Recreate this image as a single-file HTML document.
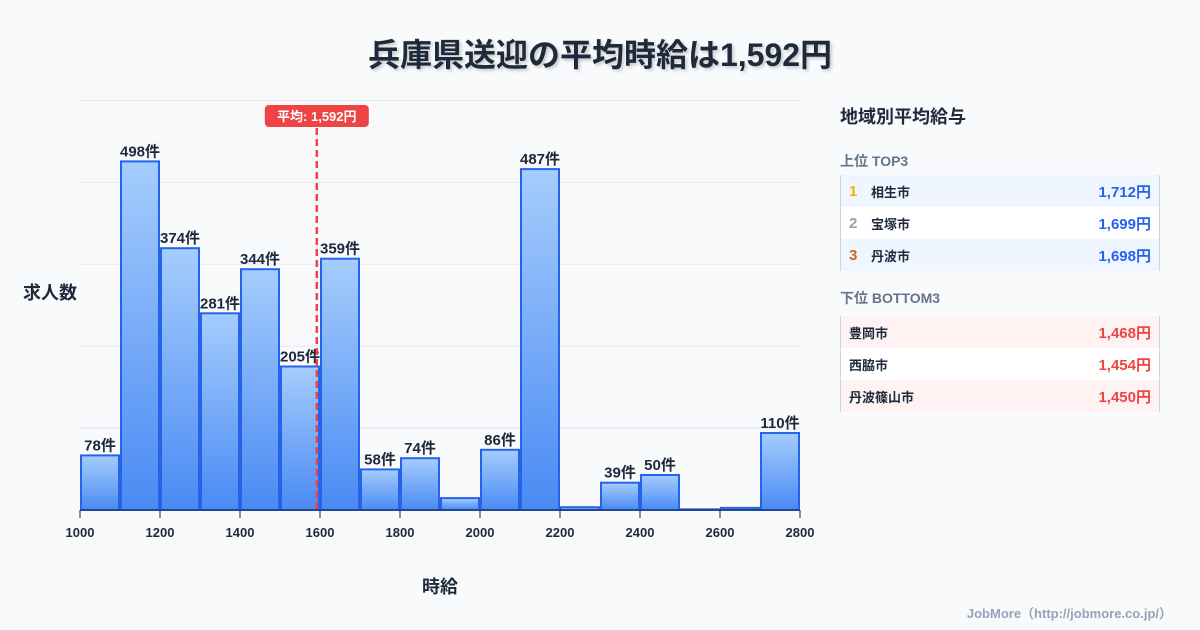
<!DOCTYPE html>
<html><head><meta charset="utf-8"><style>
body{margin:0;width:1200px;height:630px;background:#f8fafc;font-family:"Liberation Sans","Noto Sans CJK JP",sans-serif;position:relative;overflow:hidden;color:#1e293b}
.t{position:absolute}
.panel{position:absolute;left:840px;width:320px}
.row{height:32px;display:flex;align-items:center;font-size:13px;font-weight:bold;padding:0 8px;box-sizing:border-box;border-left:1px solid #cbd5e1;border-right:1px solid #cbd5e1}
.row .v{margin-left:auto;font-size:15px}
.rk{width:22px;font-size:15px}
</style></head><body>
<div class="t" style="left:0;width:1200px;top:30px;text-align:center;font-size:32px;font-weight:bold;color:#1e293b;text-shadow:2px 2px 3px rgba(0,0,0,0.2)">兵庫県送迎の平均時給は1,592円</div>
<svg class="t" style="left:0;top:0" width="820" height="630">
<defs><linearGradient id="g" x1="0" y1="0" x2="0" y2="1"><stop offset="0" stop-color="#a5cdfc"/><stop offset="1" stop-color="#4a8af4"/></linearGradient></defs>
<g id="grid"></g><g id="bars"></g><g id="axis"></g>
<text x="440" y="593" text-anchor="middle" font-size="18" font-weight="bold" fill="#1e293b">時給</text>
<text x="50" y="299" text-anchor="middle" font-size="18" font-weight="bold" fill="#1e293b">求人数</text>
</svg>
<div class="t" style="right:28px;top:603px;font-size:13px;color:#94a3b8;font-weight:bold">JobMore（http://jobmore.co.jp/）</div>
<div class="panel" style="top:103px">
<div style="font-size:18px;font-weight:bold;color:#1e293b">地域別平均給与</div>
<div style="font-size:14px;font-weight:bold;color:#64748b;margin-top:22px;margin-bottom:4px">上位 TOP3</div>
<div class="row" style="background:#eff6ff"><span class="rk" style="color:#eab308">1</span>相生市<span class="v" style="color:#2563eb">1,712円</span></div>
<div class="row" style="background:#fff"><span class="rk" style="color:#94a3b8">2</span>宝塚市<span class="v" style="color:#2563eb">1,699円</span></div>
<div class="row" style="background:#eff6ff"><span class="rk" style="color:#c2691f">3</span>丹波市<span class="v" style="color:#2563eb">1,698円</span></div>
<div style="font-size:14px;font-weight:bold;color:#64748b;margin-top:17px;margin-bottom:8px">下位 BOTTOM3</div>
<div class="row" style="background:#fef2f2">豊岡市<span class="v" style="color:#ef4444">1,468円</span></div>
<div class="row" style="background:#fff">西脇市<span class="v" style="color:#ef4444">1,454円</span></div>
<div class="row" style="background:#fef2f2">丹波篠山市<span class="v" style="color:#ef4444">1,450円</span></div>
</div>
<script>
const binStarts=[1000,1100,1200,1300,1400,1500,1600,1700,1800,1900,2000,2100,2200,2300,2400,2500,2600,2700];
const counts=[78,498,374,281,344,205,359,58,74,17,86,487,4,39,50,1,3,110];
const xTicks=[1000,1200,1400,1600,1800,2000,2200,2400,2600,2800];
const gridVals=[0,117,234,351,468,585];
const meanValue=1592;
const NS="http://www.w3.org/2000/svg";
const X=v=>80+(v-1000)*0.4, Y=v=>510-v*0.7;
function mk(t,a,p){const e=document.createElementNS(NS,t);for(const k in a)e.setAttribute(k,a[k]);p.appendChild(e);return e;}
const grid=document.getElementById('grid'),bars=document.getElementById('bars'),axis=document.getElementById('axis');
gridVals.forEach(v=>{const l=mk('line',{x1:80,x2:800,y1:Y(v),y2:Y(v),stroke:'#e2e8f0','stroke-width':1},grid);

});
binStarts.forEach((b,i)=>{const x0=X(b)+1,x1=X(b+100)-1,y=Y(counts[i]);
const r=mk('rect',{x:x0,y:y,width:x1-x0,height:510-y,fill:'url(#g)',stroke:'#2563eb','stroke-width':2},bars);


if(counts[i]>=30){const t=mk('text',{x:(x0+x1)/2,y:y-5,'text-anchor':'middle','font-size':15,'font-weight':'bold',fill:'#1e293b'},bars);t.textContent=counts[i]+'件';

}});
const bl=mk('line',{x1:80,x2:800,y1:510,y2:510,stroke:'#1e293b','stroke-width':1},axis);


xTicks.forEach(v=>{mk('line',{x1:X(v),x2:X(v),y1:510,y2:518,stroke:'#1e293b'},axis);
const t=mk('text',{x:X(v),y:537,'text-anchor':'middle','font-size':13,'font-weight':'bold',fill:'#1e293b'},axis);t.textContent=v;

});
const mx=X(meanValue);
const ml=mk('line',{x1:mx,x2:mx,y1:128,y2:510,stroke:'#ef4444','stroke-width':2.5,'stroke-dasharray':'7,4'},axis);


const mr=mk('rect',{x:mx-52,y:105,width:104,height:22,rx:4,fill:'#ef4444'},axis);


const mt=mk('text',{x:mx,y:121,'text-anchor':'middle','font-size':13,'font-weight':'bold',fill:'#fff'},axis);mt.textContent='平均: 1,592円';


</script>
</body></html>
